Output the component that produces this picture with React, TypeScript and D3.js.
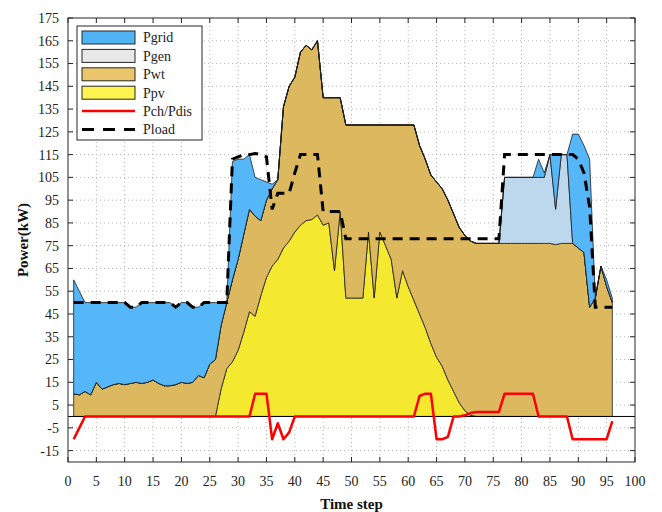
import React from "react";
import * as d3 from "d3";

const timeSteps = d3.range(1, 97);

const Ppv = [
  0, 0, 0, 0, 0, 0, 0, 0, 0, 0, 0, 0,
  0, 0, 0, 0, 0, 0, 0, 0, 0, 0, 0, 0,
  0, 0, 12, 21, 24, 29, 37, 46, 44, 53, 61, 66,
  69, 74, 77, 81, 84, 86, 86.5, 88.5, 84, 85, 64, 90,
  52, 52, 52, 52, 81, 52, 81, 75, 69, 52, 64, 57,
  51, 45, 39, 32, 26, 22, 16, 11, 6, 2.5, 0.5, 0,
  0, 0, 0, 0, 0, 0, 0, 0, 0, 0, 0, 0,
  0, 0, 0, 0, 0, 0, 0, 0, 0, 0, 0, 0,
];

const Pwt = [
  10, 9.5, 11, 9.5, 15, 12, 13, 14, 14.5, 14, 14.5, 15,
  14.5, 15, 16, 14.5, 13.5, 13.5, 14, 15, 14.5, 15, 18, 17,
  23, 25, 28, 29, 36, 40, 43, 45, 44, 33, 34, 34,
  35, 62, 68, 68, 76, 77, 74.5, 76.5, 56, 55, 76, 50,
  76, 76, 76, 76, 47, 76, 47, 53, 59, 76, 64, 71,
  77, 74, 74, 74, 77, 78, 79, 78, 77, 77, 76.5, 76,
  76, 76, 76, 76, 76, 76, 76, 76, 76, 76, 76, 76,
  76, 75.5, 76, 76, 76, 74, 72, 48, 52, 66, 57, 50,
];

const Pgen = [
  0, 0, 0, 0, 0, 0, 0, 0, 0, 0, 0, 0,
  0, 0, 0, 0, 0, 0, 0, 0, 0, 0, 0, 0,
  0, 0, 0, 0, 0, 0, 0, 0, 0, 0, 0, 0,
  0, 0, 0, 0, 0, 0, 0, 0, 0, 0, 0, 0,
  0, 0, 0, 0, 0, 0, 0, 0, 0, 0, 0, 0,
  0, 0, 0, 0, 0, 0, 0, 0, 0, 0, 0, 0,
  0, 0, 0, 0, 29, 29, 29, 29, 29, 29, 29, 29,
  39, 15.5, 39, 39, 0, 0, 0, 0, 0, 0, 0, 0,
];

const Pgrid = [
  50, 45.5, 39, 40.5, 35, 38, 37, 36, 35.5, 36, 33.5, 33,
  35.5, 35, 34, 35.5, 36.5, 36.5, 34, 35, 35.5, 33, 30, 33,
  27, 25, 10, 0, 52, 44, 33, 24, 17, 18, 8, 2,
  0, 0, 0, 0, 0, 0, 0, 0, 0, 0, 0, 0,
  0, 0, 0, 0, 0, 0, 0, 0, 0, 0, 0, 0,
  0, 0, 0, 0, 0, 0, 0, 0, 0, 0, 0, 0,
  0, 0, 0, 0, 0, 0, 0, 0, 0, 0, 8, 2,
  0, 24, 0, 0, 48, 50, 47, 65, 0, 0, 3, 2,
];

const Pch = [
  -10, -5, 0, 0, 0, 0, 0, 0, 0, 0, 0, 0,
  0, 0, 0, 0, 0, 0, 0, 0, 0, 0, 0, 0,
  0, 0, 0, 0, 0, 0, 0, 0, 10, 10, 10, -10,
  -3, -10, -7, 0, 0, 0, 0, 0, 0, 0, 0, 0,
  0, 0, 0, 0, 0, 0, 0, 0, 0, 0, 0, 0,
  0, 9, 10, 10, -10, -10, -9, 0, 0, 0.5, 1.5, 2,
  2, 2, 2, 2, 10, 10, 10, 10, 10, 10, 0, 0,
  0, 0, 0, 0, -10, -10, -10, -10, -10, -10, -10, -2,
];

const Pload = [
  50, 50, 50, 50, 50, 50, 50, 50, 50, 50, 48, 48,
  50, 50, 50, 50, 50, 50, 48, 50, 50, 48, 48, 50,
  50, 50, 50, 50, 113, 114, 115, 115, 115.5, 115, 114, 91,
  98, 98, 98, 107, 115, 115, 115, 115, 90, 90, 90, 90,
  78, 78, 78, 78, 78, 78, 78, 78, 78, 78, 78, 78,
  78, 78, 78, 78, 78, 78, 78, 78, 78, 78, 78, 78,
  78, 78, 78, 78, 115, 115, 115, 115, 115, 115, 115, 115,
  115, 115, 115, 115, 115, 113, 107, 92, 48, 48, 48, 48,
];

const xTicks = [0, 5, 10, 15, 20, 25, 30, 35, 40, 45, 50, 55, 60, 65, 70, 75, 80, 85, 90, 95, 100];
const yTicks = [-15, -5, 5, 15, 25, 35, 45, 55, 65, 75, 85, 95, 105, 115, 125, 135, 145, 155, 165, 175];

const seriesKeys = ["Ppv", "Pwt", "Pgen", "Pgrid"];
const plotColors: Record<string, string> = {
  Ppv: "#f5e92f",
  Pwt: "#dcb85f",
  Pgen: "#bdd8ec",
  Pgrid: "#55b6f8",
};
const legendItems = [
  { label: "Pgrid", type: "patch", color: "#50b4f4" },
  { label: "Pgen", type: "patch", color: "#e8e8e8" },
  { label: "Pwt", type: "patch", color: "#eac569" },
  { label: "Ppv", type: "patch", color: "#fff44f" },
  { label: "Pch/Pdis", type: "line", color: "#ff0000" },
  { label: "Pload", type: "dash", color: "#000000" },
];

const FONT = "'Liberation Serif', 'Times New Roman', serif";

export default function App() {
  const left = 68, right = 635, top = 18, bottom = 462;
  const x = d3.scaleLinear().domain([0, 100]).range([left, right]);
  const y = d3.scaleLinear().domain([-20, 175]).range([bottom, top]);

  const rows = timeSteps.map((t, i) => ({
    t,
    Ppv: Ppv[i],
    Pwt: Pwt[i],
    Pgen: Pgen[i],
    Pgrid: Pgrid[i],
  }));
  const stacked = d3.stack<any>().keys(seriesKeys)(rows);
  const area = d3
    .area<any>()
    .x((d) => x(d.data.t))
    .y0((d) => y(d[0]))
    .y1((d) => y(d[1]));

  const chLine = d3
    .line<number>()
    .x((_, i) => x(timeSteps[i]))
    .y((d) => y(d));

  return (
    <svg
      width={662}
      height={512}
      style={{ position: "absolute", left: 0, top: 0, background: "#fff" }}
      fontFamily={FONT}
    >
      <rect x={0} y={0} width={662} height={512} fill="#fff" />
      {/* grid */}
      <g stroke="#b8b8b8" strokeWidth={1} strokeDasharray="1,3">
        {xTicks.slice(1, -1).map((t) => (
          <line key={"gx" + t} x1={x(t)} x2={x(t)} y1={top} y2={bottom} />
        ))}
        {yTicks.slice(0, -1).map((v) => (
          <line key={"gy" + v} x1={left} x2={right} y1={y(v)} y2={y(v)} />
        ))}
      </g>

      {/* stacked areas */}
      {stacked.map((s) => (
        <path
          key={s.key}
          d={area(s as any) || ""}
          fill={plotColors[s.key]}
          stroke="#1e1e1e"
          strokeWidth={0.8}
          strokeLinejoin="round"
        />
      ))}

      {/* zero baseline */}
      <line x1={left} x2={right} y1={y(0)} y2={y(0)} stroke="#000" strokeWidth={1} />

      {/* charge/discharge */}
      <path d={chLine(Pch) || ""} fill="none" stroke="#ff0000" strokeWidth={2.5} strokeLinejoin="round" />

      {/* load */}
      <path
        d={chLine(Pload) || ""}
        fill="none"
        stroke="#000"
        strokeWidth={3}
        strokeDasharray="10,7"
      />

      {/* axes box */}
      <rect x={left} y={top} width={right - left} height={bottom - top} fill="none" stroke="#262626" strokeWidth={1} />
      <g stroke="#262626" strokeWidth={1}>
        {xTicks.map((t) => (
          <g key={"tx" + t}>
            <line x1={x(t)} x2={x(t)} y1={bottom} y2={bottom - 5} />
            <line x1={x(t)} x2={x(t)} y1={top} y2={top + 5} />
          </g>
        ))}
        {yTicks.map((v) => (
          <g key={"ty" + v}>
            <line x1={left} x2={left + 5} y1={y(v)} y2={y(v)} />
            <line x1={right} x2={right - 5} y1={y(v)} y2={y(v)} />
          </g>
        ))}
      </g>
      <g fontSize={14} fill="#222">
        {xTicks.map((t) => (
          <text key={"lx" + t} x={x(t)} y={486} textAnchor="middle">
            {t}
          </text>
        ))}
        {yTicks.map((v) => (
          <text key={"ly" + v} x={59} y={y(v)} dy="0.35em" textAnchor="end">
            {v}
          </text>
        ))}
      </g>
      <text x={(left + right) / 2} y={509} textAnchor="middle" fontSize={15} fontWeight="bold" fill="#111">
        Time step
      </text>
      <text
        transform={`translate(28,${(top + bottom) / 2}) rotate(-90)`}
        textAnchor="middle"
        fontSize={15}
        fontWeight="bold"
        fill="#111"
      >
        Power(kW)
      </text>

      {/* legend */}
      <g>
        <rect x={77} y={26} width={125} height={114} fill="#fff" stroke="#262626" strokeWidth={1} />
        {legendItems.map((it, i) => {
          const cy = 37.5 + i * 18.4;
          return (
            <g key={it.label}>
              {it.type === "patch" && (
                <rect x={82} y={cy - 6.5} width={53} height={13} fill={it.color} stroke="#262626" strokeWidth={1} />
              )}
              {it.type === "line" && (
                <line x1={82} x2={135} y1={cy} y2={cy} stroke={it.color} strokeWidth={2.5} />
              )}
              {it.type === "dash" && (
                <line x1={82} x2={135} y1={cy} y2={cy} stroke={it.color} strokeWidth={3} strokeDasharray="12,9" />
              )}
              <text x={143} y={cy} dy="0.35em" fontSize={14} fill="#222">
                {it.label}
              </text>
            </g>
          );
        })}
      </g>
    </svg>
  );
}
